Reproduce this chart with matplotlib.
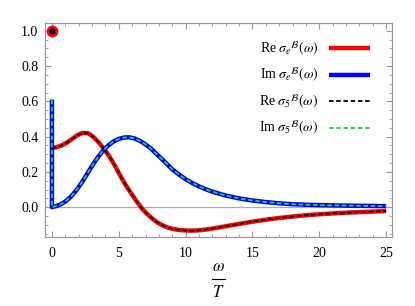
import numpy as np
import matplotlib.pyplot as plt
from matplotlib.lines import Line2D
from matplotlib.ticker import MultipleLocator

plt.rcParams["font.family"] = ["Liberation Serif", "DejaVu Serif"]
plt.rcParams["mathtext.fontset"] = "stix"

# Re sigma_e^B(omega)
w_re = [0.0, 0.3, 0.7, 1.1, 1.5, 1.9, 2.3, 2.7, 3.1, 3.5, 3.9, 4.3, 4.7, 5.1, 5.5, 5.9,
        6.3, 6.7, 7.1, 7.5, 7.9, 8.3, 8.7, 9.1, 9.5, 10.0, 10.5, 11.0, 11.5, 12.0, 12.5,
        13.0, 14.0, 15.0, 16.0, 17.0, 18.0, 19.0, 20.0, 22.0, 25.0]
re_sigma = [0.335, 0.339, 0.349, 0.365, 0.386, 0.408, 0.421, 0.419, 0.399, 0.367, 0.33,
            0.287, 0.237, 0.18, 0.128, 0.082, 0.037, -0.004, -0.037, -0.064, -0.087,
            -0.104, -0.116, -0.124, -0.129, -0.132, -0.133, -0.131, -0.127, -0.121,
            -0.115, -0.108, -0.095, -0.082, -0.071, -0.061, -0.053, -0.046, -0.040,
            -0.031, -0.022]

# Im sigma_e^B(omega), the first pair is the spike at omega = 0
w_im = [0.0, 0.0, 0.3, 0.6, 1.0, 1.4, 1.8, 2.2, 2.6, 3.0, 3.4, 3.8, 4.2, 4.6, 5.0, 5.4,
        5.8, 6.2, 6.6, 7.0, 7.4, 7.8, 8.2, 8.6, 9.0, 9.5, 10.0, 10.5, 11.0, 11.5, 12.0,
        13.0, 14.0, 15.0, 16.0, 17.0, 18.0, 19.0, 20.0, 22.0, 25.0]
im_sigma = [0.61, 0.0, 0.006, 0.014, 0.032, 0.058, 0.093, 0.136, 0.184, 0.234, 0.279,
            0.318, 0.349, 0.372, 0.387, 0.395, 0.396, 0.389, 0.375, 0.356, 0.333, 0.303,
            0.275, 0.245, 0.215, 0.185, 0.159, 0.137, 0.118, 0.102, 0.088, 0.066, 0.050,
            0.038, 0.029, 0.022, 0.017, 0.014, 0.012, 0.009, 0.006]

# isolated value at omega = 0
w_pt = [0.0]
re_pt = [1.0]

fig = plt.figure(figsize=(4.15, 3.06), dpi=100)
ax = fig.add_axes([0.109, 0.226, 0.836, 0.700])

ax.axhline(0, color="#aaaaaa", lw=0.9, zorder=1)

ax.plot(w_re, re_sigma, color="red", lw=3.2, solid_capstyle="butt", zorder=3,
        label=r"Re $\sigma_e{}^{\mathcal{B}}(\omega)$")
ax.plot(w_im, im_sigma, color="#0000ff", lw=3.2, solid_capstyle="butt", zorder=3,
        label=r"Im $\sigma_e{}^{\mathcal{B}}(\omega)$")
ax.plot(w_re, re_sigma, color="black", lw=1.3, ls=(0, (2.5, 1.5)), zorder=4,
        label=r"Re $\sigma_5{}^{\mathcal{B}}(\omega)$")
ax.plot(w_im, im_sigma, color="#22dd22", lw=1.3, ls=(0, (2.5, 1.5)), zorder=4,
        label=r"Im $\sigma_5{}^{\mathcal{B}}(\omega)$")

ax.plot(w_pt, re_pt, "o", color="red", ms=7.5, zorder=5, clip_on=False)
ax.plot(w_pt, re_pt, "o", color="black", ms=3.5, zorder=6, clip_on=False)

ax.set_xlim(-0.5, 25.45)
ax.set_ylim(-0.168, 1.046)

ax.xaxis.set_major_locator(MultipleLocator(5))
ax.xaxis.set_minor_locator(MultipleLocator(1))
ax.yaxis.set_minor_locator(MultipleLocator(0.05))
ax.set_yticks([0.0, 0.2, 0.4, 0.6, 0.8, 1.0])
ax.set_yticklabels(["0.0", "0.2", "0.4", "0.6", "0.8", "1.0"])

for s in ax.spines.values():
    s.set_color("#999999")
    s.set_linewidth(0.9)
ax.tick_params(which="both", direction="in", top=True, right=True, color="#999999",
               labelsize=10)
ax.tick_params(axis="x", pad=7)
ax.tick_params(axis="y", pad=5)
ax.tick_params(which="major", length=4, width=0.8)
ax.tick_params(which="minor", length=2.2, width=0.6)

# x label drawn as a tall fraction, omega over T
fig.text(0.526, 1 - 267 / 306, r"$\omega$", fontsize=12, ha="center", va="center")
fig.add_artist(Line2D([0.511, 0.541], [1 - 279 / 306] * 2, color="black", lw=0.8,
                      transform=fig.transFigure))
fig.text(0.526, 1 - 293 / 306, r"$T$", fontsize=12, ha="center", va="center")

ax.legend(loc="upper right", frameon=False, markerfirst=False, fontsize=10,
          handlelength=2.9, labelspacing=0.6, borderaxespad=0.6,
          bbox_to_anchor=(0.975, 0.985))

fig.savefig("out.png", dpi=100)
plt.close(fig)
